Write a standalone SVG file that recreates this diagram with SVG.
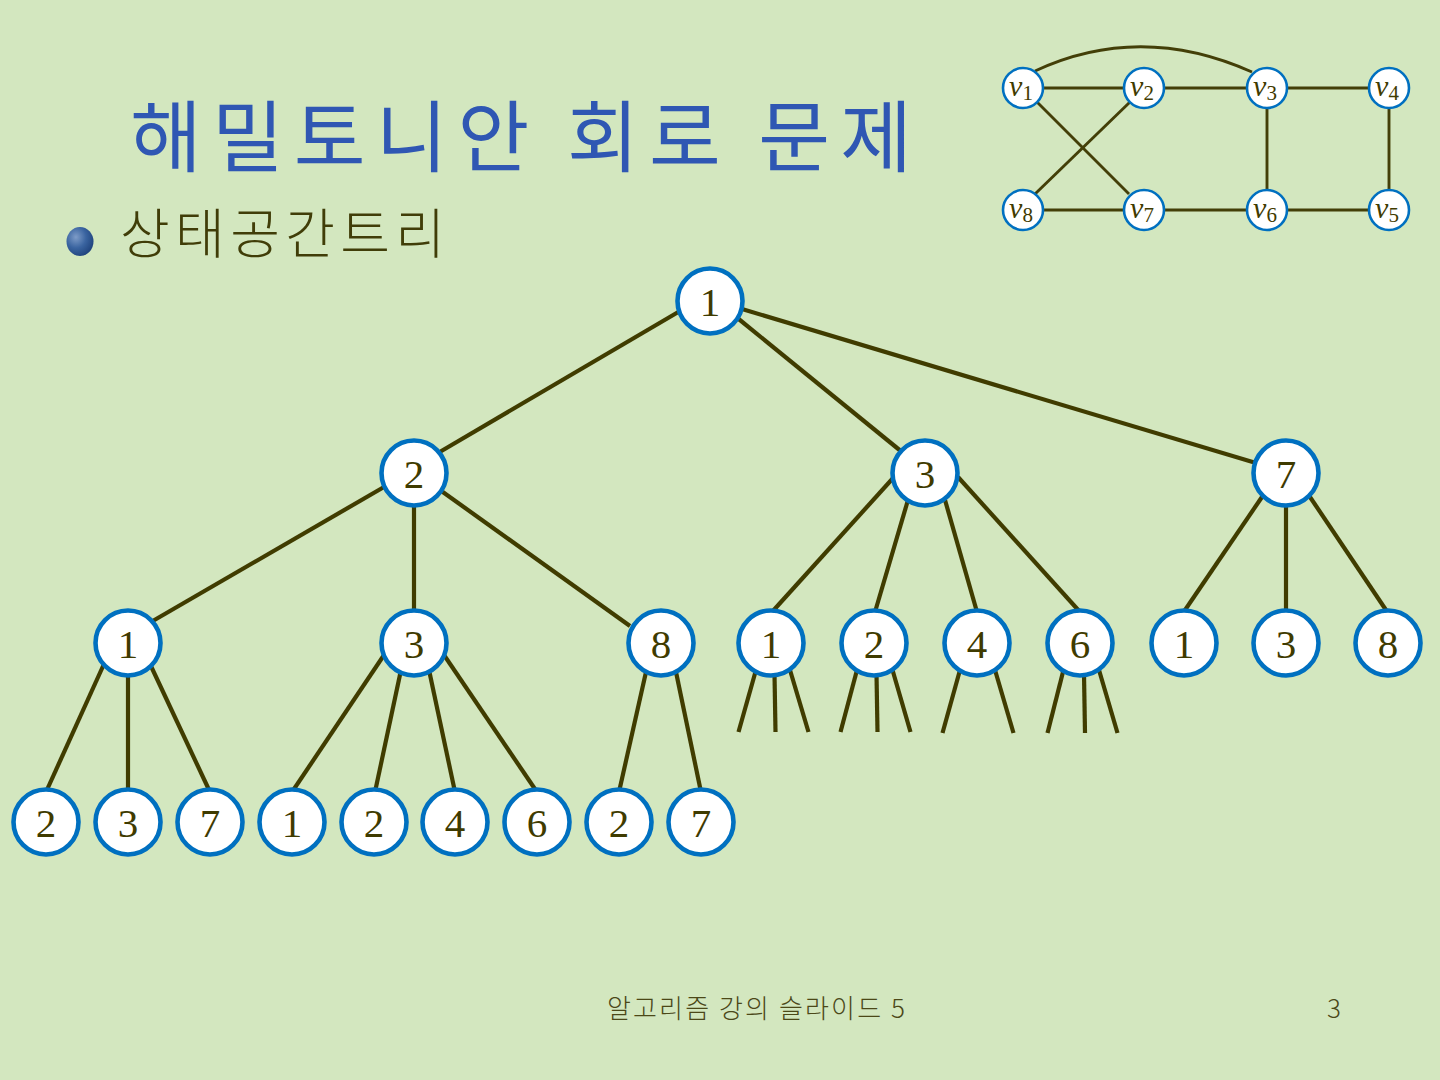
<svg xmlns="http://www.w3.org/2000/svg" width="1440" height="1080" viewBox="0 0 1440 1080">
<defs>
<radialGradient id="ball" cx="0.35" cy="0.35" r="0.75">
<stop offset="0" stop-color="#7E9CC8"/>
<stop offset="0.5" stop-color="#3A64A0"/>
<stop offset="1" stop-color="#1C3F78"/>
</radialGradient>
<style>
.bg{fill:#D3E7BF}
.e{stroke:#403C00;stroke-width:4.2;stroke-linecap:butt;fill:none}
.se{stroke:#433F08;stroke-width:2.9;fill:none}
.n circle{fill:#FFFFFF;stroke:#0070C0;stroke-width:4.6}
.n text{font-family:"Liberation Serif","Times New Roman",serif;font-size:41px;fill:#3F3B00;text-anchor:middle}
.s circle{fill:#FFFFFF;stroke:#0070C0;stroke-width:2.6}
.s text{font-family:"Liberation Serif","Times New Roman",serif;font-style:italic;font-size:30px;fill:#3F3B00;text-anchor:middle}
.s tspan.sub{font-style:normal;font-size:21px}
.title{font-family:"Noto Sans CJK KR","Noto Sans",sans-serif;font-size:78px;fill:#2F57B3}
.subt{font-family:"Noto Sans CJK KR","Noto Sans",sans-serif;font-size:54px;fill:#403D08;font-weight:300}
.foot{font-family:"Noto Sans CJK KR","Noto Sans",sans-serif;font-size:26px;fill:#4B4818;font-weight:300}
</style>
</defs>
<rect class="bg" x="0" y="0" width="1440" height="1080"/>

<text class="title" x="130" y="166" textLength="782" lengthAdjust="spacing">해밀토니안 회로 문제</text>
<ellipse cx="80" cy="241.5" rx="13.5" ry="14.5" fill="url(#ball)"/>
<text class="subt" x="120" y="254" textLength="325" lengthAdjust="spacing">상태공간트리</text>

<g id="graph-edges">
<path class="se" d="M1035,71 Q1140,22 1252,72"/>
<line class="se" x1="1023" y1="88" x2="1144" y2="88"/>
<line class="se" x1="1144" y1="88" x2="1267" y2="88"/>
<line class="se" x1="1267" y1="88" x2="1389" y2="88"/>
<line class="se" x1="1389" y1="88" x2="1389" y2="210"/>
<line class="se" x1="1267" y1="88" x2="1267" y2="210"/>
<line class="se" x1="1023" y1="210" x2="1389" y2="210"/>
<line class="se" x1="1036" y1="101" x2="1129" y2="194"/>
<line class="se" x1="1130" y1="102" x2="1035" y2="194"/>
</g>
<g id="v1" class="s"><circle cx="1023" cy="88" r="20"/><text x="1021" y="96">v<tspan class="sub" dy="4">1</tspan></text></g>
<g id="v2" class="s"><circle cx="1144" cy="88" r="20"/><text x="1142" y="96">v<tspan class="sub" dy="4">2</tspan></text></g>
<g id="v3" class="s"><circle cx="1267" cy="88" r="20"/><text x="1265" y="96">v<tspan class="sub" dy="4">3</tspan></text></g>
<g id="v4" class="s"><circle cx="1389" cy="88" r="20"/><text x="1387" y="96">v<tspan class="sub" dy="4">4</tspan></text></g>
<g id="v8" class="s"><circle cx="1023" cy="210" r="20"/><text x="1021" y="218">v<tspan class="sub" dy="4">8</tspan></text></g>
<g id="v7" class="s"><circle cx="1144" cy="210" r="20"/><text x="1142" y="218">v<tspan class="sub" dy="4">7</tspan></text></g>
<g id="v6" class="s"><circle cx="1267" cy="210" r="20"/><text x="1265" y="218">v<tspan class="sub" dy="4">6</tspan></text></g>
<g id="v5" class="s"><circle cx="1389" cy="210" r="20"/><text x="1387" y="218">v<tspan class="sub" dy="4">5</tspan></text></g>

<g id="tree-edges">
<line class="e" x1="680" y1="311" x2="438" y2="453"/>
<line class="e" x1="735" y1="316" x2="902" y2="452"/>
<line class="e" x1="742" y1="309" x2="1256" y2="463"/>
<line class="e" x1="384" y1="487" x2="151" y2="622"/>
<line class="e" x1="414" y1="500" x2="414" y2="612"/>
<line class="e" x1="440" y1="490" x2="630" y2="626"/>
<line class="e" x1="894" y1="477" x2="772" y2="612"/>
<line class="e" x1="908" y1="500" x2="875" y2="612"/>
<line class="e" x1="945" y1="500" x2="977" y2="612"/>
<line class="e" x1="958" y1="477" x2="1080" y2="612"/>
<line class="e" x1="1264" y1="494" x2="1183" y2="613"/>
<line class="e" x1="1286" y1="500" x2="1286" y2="613"/>
<line class="e" x1="1308" y1="494" x2="1388" y2="613"/>
<line class="e" x1="104" y1="664" x2="46" y2="792"/>
<line class="e" x1="128" y1="672" x2="128" y2="792"/>
<line class="e" x1="150" y1="664" x2="210" y2="792"/>
<line class="e" x1="384" y1="655" x2="292" y2="792"/>
<line class="e" x1="401" y1="670" x2="375" y2="792"/>
<line class="e" x1="429" y1="670" x2="455" y2="792"/>
<line class="e" x1="444" y1="655" x2="537" y2="792"/>
<line class="e" x1="646" y1="672" x2="619" y2="792"/>
<line class="e" x1="676" y1="672" x2="701" y2="792"/>
<line class="e" x1="756" y1="670" x2="738.5" y2="732"/>
<line class="e" x1="774.5" y1="674" x2="775.5" y2="732"/>
<line class="e" x1="790" y1="670" x2="808.5" y2="732"/>
<line class="e" x1="857" y1="670" x2="840.5" y2="732"/>
<line class="e" x1="876.5" y1="674" x2="877.5" y2="732"/>
<line class="e" x1="892.5" y1="670" x2="910.5" y2="732"/>
<line class="e" x1="960" y1="670" x2="942.5" y2="733"/>
<line class="e" x1="995" y1="670" x2="1013.5" y2="733"/>
<line class="e" x1="1063.5" y1="670" x2="1047.5" y2="733"/>
<line class="e" x1="1084" y1="674" x2="1085" y2="733"/>
<line class="e" x1="1099" y1="670" x2="1117.5" y2="733"/>
</g>

<g id="root" class="n"><circle cx="710" cy="301" r="32.5"/><text x="710" y="316">1</text></g>
<g id="a2" class="n"><circle cx="414" cy="473" r="32.5"/><text x="414" y="488">2</text></g>
<g id="a3" class="n"><circle cx="925" cy="473" r="32.5"/><text x="925" y="488">3</text></g>
<g id="a7" class="n"><circle cx="1286" cy="473" r="32.5"/><text x="1286" y="488">7</text></g>
<g id="b1" class="n"><circle cx="128" cy="643" r="32.5"/><text x="128" y="658">1</text></g>
<g id="b3" class="n"><circle cx="414" cy="643" r="32.5"/><text x="414" y="658">3</text></g>
<g id="b8" class="n"><circle cx="661" cy="643" r="32.5"/><text x="661" y="658">8</text></g>
<g id="c1" class="n"><circle cx="771" cy="643" r="32.5"/><text x="771" y="658">1</text></g>
<g id="c2" class="n"><circle cx="874" cy="643" r="32.5"/><text x="874" y="658">2</text></g>
<g id="c4" class="n"><circle cx="977" cy="643" r="32.5"/><text x="977" y="658">4</text></g>
<g id="c6" class="n"><circle cx="1080" cy="643" r="32.5"/><text x="1080" y="658">6</text></g>
<g id="d1" class="n"><circle cx="1184" cy="643" r="32.5"/><text x="1184" y="658">1</text></g>
<g id="d3" class="n"><circle cx="1286" cy="643" r="32.5"/><text x="1286" y="658">3</text></g>
<g id="d8" class="n"><circle cx="1388" cy="643" r="32.5"/><text x="1388" y="658">8</text></g>
<g id="e2" class="n"><circle cx="46" cy="822" r="32.5"/><text x="46" y="837">2</text></g>
<g id="e3" class="n"><circle cx="128" cy="822" r="32.5"/><text x="128" y="837">3</text></g>
<g id="e7" class="n"><circle cx="210" cy="822" r="32.5"/><text x="210" y="837">7</text></g>
<g id="f1" class="n"><circle cx="292" cy="822" r="32.5"/><text x="292" y="837">1</text></g>
<g id="f2" class="n"><circle cx="374" cy="822" r="32.5"/><text x="374" y="837">2</text></g>
<g id="f4" class="n"><circle cx="455" cy="822" r="32.5"/><text x="455" y="837">4</text></g>
<g id="f6" class="n"><circle cx="537" cy="822" r="32.5"/><text x="537" y="837">6</text></g>
<g id="g2" class="n"><circle cx="619" cy="822" r="32.5"/><text x="619" y="837">2</text></g>
<g id="g7" class="n"><circle cx="701" cy="822" r="32.5"/><text x="701" y="837">7</text></g>

<text class="foot" x="607" y="1018" textLength="298" lengthAdjust="spacing">알고리즘 강의 슬라이드 5</text>
<text class="foot" x="1334" y="1018" text-anchor="middle">3</text>
</svg>
